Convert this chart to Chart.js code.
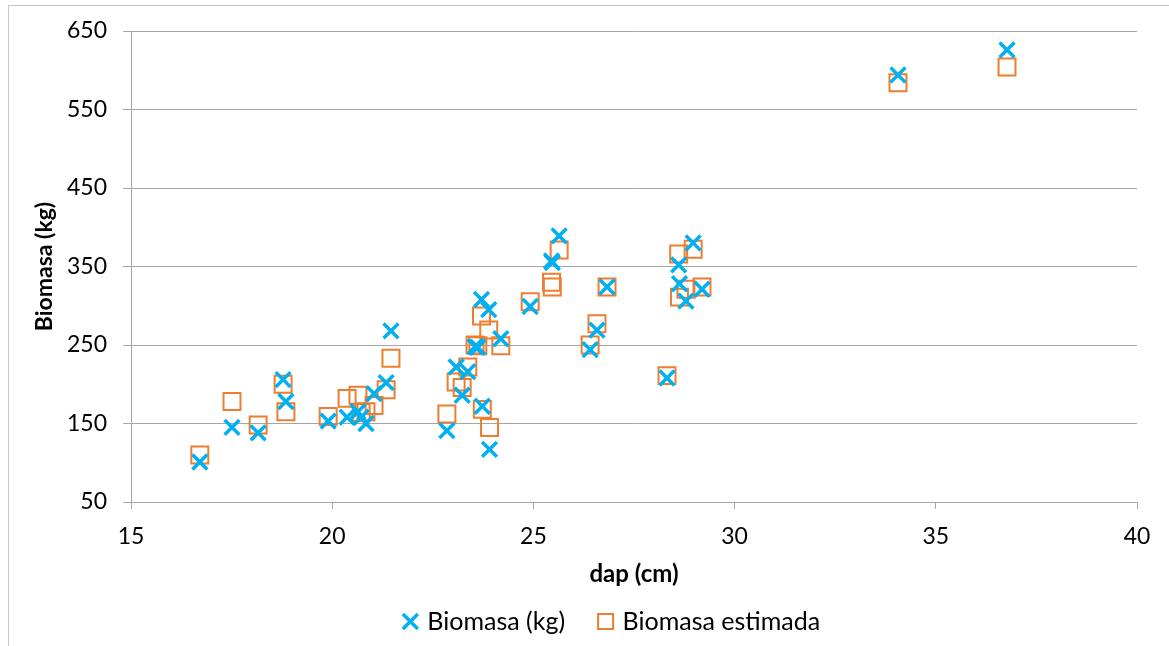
<!DOCTYPE html>
<html>
<head>
<meta charset="utf-8">
<script src="https://cdn.jsdelivr.net/npm/chart.js@4.4.1/dist/chart.umd.min.js"></script>
<style>
  html, body { margin: 0; padding: 0; background: #ffffff; }
  #wrap { position: relative; width: 1169px; height: 646px; overflow: hidden; }
  #frame { position: absolute; left: 8px; top: 5px; width: 1200px; height: 700px;
           border-left: 1px solid #c8c8c8; border-top: 1px solid #c8c8c8; }
  #c { position: absolute; left: 0; top: 0; }
</style>
</head>
<body>
<div id="wrap">
  <div id="frame"></div>
  <canvas id="c" width="1169" height="646"></canvas>
</div>
<script>
// Diámetro a la altura del pecho (cm) de cada árbol
const dap = [16.71, 17.51, 18.16, 18.78, 18.85, 19.90, 20.37, 20.64, 20.72, 20.84,
             21.04, 21.34, 21.46, 22.85, 23.08, 23.23, 23.37, 23.55, 23.62, 23.71,
             23.73, 23.89, 23.91, 24.19, 24.92, 25.45, 25.47, 25.64, 26.41, 26.58,
             26.83, 28.32, 28.61, 28.63, 28.79, 28.97, 29.19, 34.06, 36.77];

// Biomasa medida (kg)
const biomasa = [101, 145, 138, 206, 178, 153, 158, 165, 158, 150,
                 188, 202, 268, 141, 222, 186, 216, 248, 247, 308,
                 172, 295, 117, 258, 299, 357, 355, 389, 244, 269,
                 324, 208, 352, 328, 306, 380, 321, 594, 626];

// Biomasa estimada por el modelo (kg)
const estimada = [110, 178, 148, 200, 165, 159, 182, 186, 164, 165,
                  173, 193, 233, 162, 203, 196, 222, 250, 249, 287,
                  168, 269, 145, 249, 305, 330, 324, 371, 250, 277,
                  324, 211, 366, 311, 321, 372, 324, 584, 604];

const seriesNames = ['Biomasa (kg)', 'Biomasa estimada'];
const xTitle = 'dap (cm)';
const yTitle = 'Biomasa (kg)';
const xTicks = { min: 15, max: 40, step: 5 };
const yTicks = { min: 50, max: 650, step: 100 };

const toPoints = (xs, ys) => xs.map((x, i) => ({ x: x, y: ys[i] }));

const FONT = 'Lato, "Open Sans", sans-serif';
const GRID = '#a6a6a6';

// Horizontal placement of the legend row
const legendPlace = {
  id: 'legendPlace',
  afterLayout(chart) {
    const lg = chart.legend;
    if (!lg) return;
    const dx = 613 - (lg.left + lg.right) / 2;
    lg.left += dx;
    lg.right += dx;
  }
};

new Chart(document.getElementById('c'), {
  type: 'scatter',
  data: {
    datasets: [
      {
        label: seriesNames[0],
        data: toPoints(dap, biomasa),
        pointStyle: 'crossRot',
        pointRadius: 10.5,
        borderColor: '#00B0F0',
        backgroundColor: '#00B0F0',
        borderWidth: 3.5
      },
      {
        label: seriesNames[1],
        data: toPoints(dap, estimada),
        pointStyle: 'rect',
        pointRadius: 12,
        borderColor: '#ED7D31',
        backgroundColor: 'rgba(0,0,0,0)',
        borderWidth: 2
      }
    ]
  },
  options: {
    responsive: false,
    animation: false,
    events: [],
    layout: { padding: { left: 31, top: 31, right: 32, bottom: 2 } },
    plugins: {
      tooltip: { enabled: false },
      legend: {
        position: 'bottom',
        fullSize: false,
        labels: {
          usePointStyle: true,
          boxHeight: 15,
          boxWidth: 9,
          padding: 36,
          color: '#000000',
          font: { family: FONT, size: 25 }
        }
      }
    },
    scales: {
      x: {
        type: 'linear',
        min: xTicks.min,
        max: xTicks.max,
        afterFit: (s) => { s.height = 71; },
        ticks: { stepSize: xTicks.step, padding: 14, color: '#000000',
                 font: { family: FONT, size: 23 }, maxRotation: 0 },
        grid: { drawOnChartArea: false, drawTicks: true, tickLength: 7, color: GRID },
        border: { color: GRID, width: 1 },
        title: { display: true, text: xTitle, color: '#000000',
                 font: { family: FONT, size: 24, weight: 'bold' },
                 padding: { top: 0, bottom: -16 } }
      },
      y: {
        type: 'linear',
        min: yTicks.min,
        max: yTicks.max,
        afterFit: (s) => { s.width = 100; },
        ticks: { stepSize: yTicks.step, padding: 16, color: '#000000',
                 font: { family: FONT, size: 23 } },
        grid: { drawOnChartArea: true, drawTicks: true, tickLength: 8, color: GRID },
        border: { color: GRID, width: 1 },
        title: { display: true, text: yTitle, color: '#000000',
                 font: { family: FONT, size: 23, weight: 'bold' },
                 padding: { top: 0, bottom: 0 } }
      }
    }
  },
  plugins: [legendPlace]
});
</script>
</body>
</html>
